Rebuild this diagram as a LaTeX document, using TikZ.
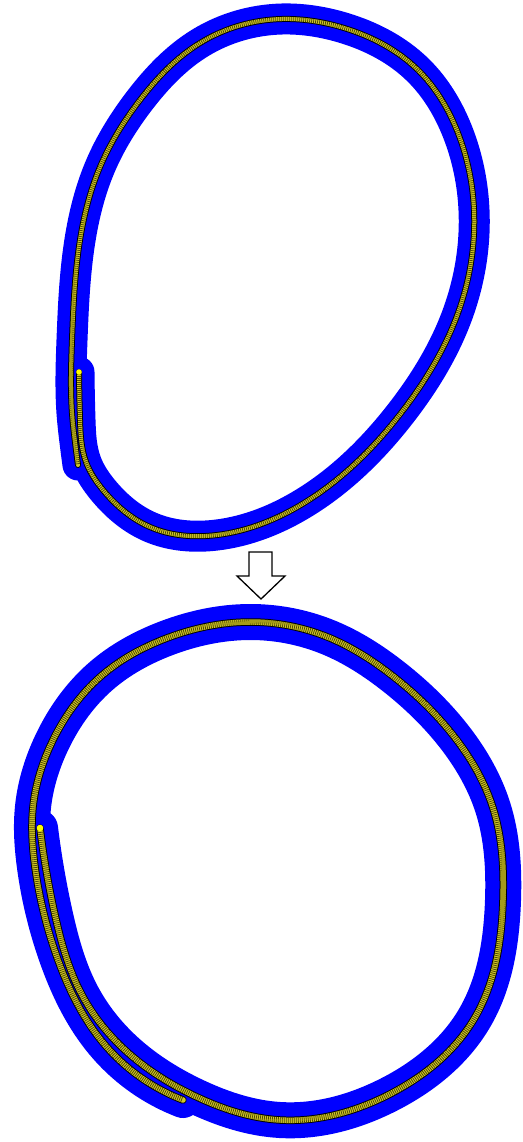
\documentclass[tikz,border=0pt]{standalone}
\usetikzlibrary{hobby}
\begin{document}
\begin{tikzpicture}[x=1pt,y=-1pt,use Hobby shortcut,
  bufferA/.style={draw={rgb,255:red,0;green,0;blue,255},line width=31pt,line cap=round,line join=round},
  bufferB/.style={draw={rgb,255:red,0;green,0;blue,255},line width=36pt,line cap=round,line join=round},
  edgeline/.style={draw=black,line cap=round,line join=round},
  fillline/.style={draw={rgb,255:red,210;green,200;blue,40},line cap=round,line join=round},
  texline/.style={draw={rgb,255:red,80;green,74;blue,0},line width=#1,dash pattern=on 0.8pt off 1.2pt,line join=round},
  startdot/.style={fill={rgb,255:red,255;green,255;blue,0}}]
\useasboundingbox (0,0) rectangle (522,1142);
\fill[white] (0,0) rectangle (522,1142);

\def\loopA{(79,372) .. (80,420) .. (86,462) .. (103,490) .. (150,527) .. (217,535) .. (304,503) .. (401,413) .. (458,313) .. (474,210) .. (458,133) .. (418,70) .. (344,28) .. (282,19) .. (200,43) .. (140,100) .. (100,167) .. (80,240) .. (72,340) .. (72,413) .. (75,442) .. (78,465)}
\def\loopB{(40,828) .. (55,915) .. (82,995) .. (125,1050) .. (197,1097) .. (280,1120) .. (388,1095) .. (474,1019) .. (503,900) .. (493,808) .. (456,739) .. (394,677) .. (330,638) .. (250,622) .. (167,638) .. (100,677) .. (53,740) .. (33,807) .. (35,867) .. (58,960) .. (105,1045) .. (183,1100)}

% top loop
\path[bufferA] \loopA;
\path[edgeline,line width=6pt] \loopA;
\path[fillline,line width=4pt] \loopA;
\path[texline=4pt] \loopA;
\fill[startdot] (79,372) circle (2.8pt);

% bottom loop
\path[bufferB] \loopB;
\path[edgeline,line width=7.5pt] \loopB;
\path[fillline,line width=5.5pt] \loopB;
\path[texline=5.5pt] \loopB;
\fill[startdot] (40,828) circle (3.3pt);

% arrow
\draw[black,line width=1.3pt,fill=white,line join=miter]
  (249,552) -- (272,552) -- (272,576) -- (285,576) -- (261,599) -- (237,576) -- (249,576) -- cycle;
\end{tikzpicture}
\end{document}
